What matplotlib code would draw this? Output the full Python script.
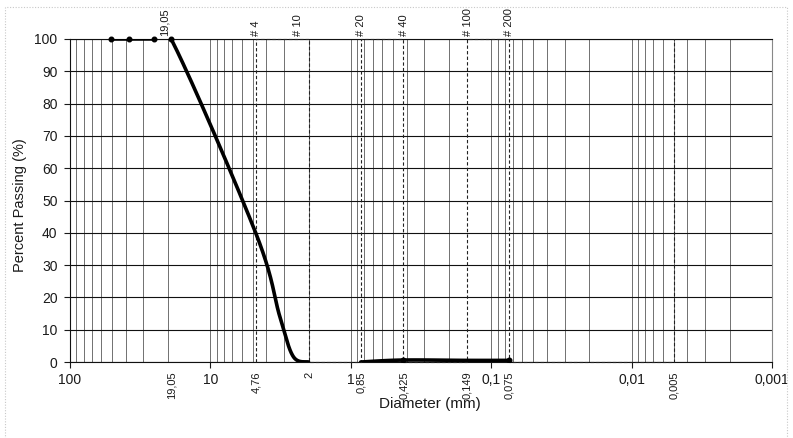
import numpy as np
import matplotlib
matplotlib.use("Agg")
import matplotlib.pyplot as plt
from matplotlib.ticker import LogLocator, FixedLocator, NullFormatter, FixedFormatter
from matplotlib.patches import Rectangle

plt.rcParams['font.family'] = ['Liberation Sans', 'DejaVu Sans']

# ---------------- data ----------------
# grading curve, coarse part (mm, % passing)
curve_a_d = [50.8, 38.1, 25.4, 19.05, 4.76, 3.2, 2.57, 2.0]
curve_a_p = [100, 100, 100, 100, 40, 14, 1.7, 0]
# grading curve, fine part
curve_b_d = [0.85, 0.425, 0.149, 0.075]
curve_b_p = [0, 0.6, 0.5, 0.5]

# sieve boundaries (dashed square-wave series)
sieve_d = [4.76, 2.0, 0.85, 0.425, 0.149, 0.075, 0.005]
sieve_top_labels = ['# 4', '# 10', '# 20', '# 40', '# 100', '# 200', '']
sieve_bottom_labels = ['4,76', '2', '0,85', '0,425', '0,149', '0,075', '0,005']

gravel_d = 19.05
gravel_label = '19,05'

x_ticks = [100, 10, 1, 0.1, 0.01, 0.001]
x_tick_labels = ['100', '10', '1', '0,1', '0,01', '0,001']
y_ticks = list(range(0, 101, 10))

# ---------------- figure ----------------
W, H = 793, 438
fig = plt.figure(figsize=(W / 100, H / 100), dpi=100)
ax = fig.add_axes([70 / W, (H - 362) / H, 702 / W, 323 / H])

ax.set_xscale('log')
ax.set_xlim(100, 0.001)
ax.set_ylim(0, 100)

ink = '#1a1a1a'

# grid
ax.xaxis.set_major_locator(FixedLocator(x_ticks))
ax.xaxis.set_major_formatter(FixedFormatter(x_tick_labels))
ax.xaxis.set_minor_locator(LogLocator(base=10, subs=np.arange(2, 10)))
ax.xaxis.set_minor_formatter(NullFormatter())
ax.set_yticks(y_ticks)
ax.set_yticklabels([str(v) for v in y_ticks])
ax.grid(True, axis='x', which='both', color='#5a5a5a', lw=0.6, zorder=0)
ax.grid(True, axis='y', which='major', color='#111111', lw=0.8, zorder=0)
ax.set_axisbelow(True)

ax.tick_params(axis='both', which='major', length=4, width=0.8, color=ink,
               labelsize=10, labelcolor=ink)
ax.tick_params(axis='y', pad=5)
ax.tick_params(axis='x', pad=4)
ax.tick_params(axis='x', which='minor', length=0)

for s in ['left', 'bottom', 'top']:
    ax.spines[s].set_color('#111111')
    ax.spines[s].set_linewidth(0.8)
ax.spines['right'].set_color('#888888')
ax.spines['right'].set_linewidth(0.8)

# ---- smoothing (Excel-like Bezier through the points, in screen space) ----
KX, KY = 140.4, 3.23


def smooth(d, p, n=40):
    u = np.log10(np.asarray(d, float)) * KX
    v = np.asarray(p, float) * KY
    pts = np.column_stack([u, v])
    ext = np.vstack([pts[0], pts, pts[-1]])
    t = np.linspace(0, 1, n)[:, None]
    out = []
    for i in range(len(pts) - 1):
        p0, p1, p2, p3 = ext[i], ext[i + 1], ext[i + 2], ext[i + 3]
        c1 = p1 + (p2 - p0) / 6.0
        c2 = p2 - (p3 - p1) / 6.0
        seg = (1 - t) ** 3 * p1 + 3 * (1 - t) ** 2 * t * c1 + 3 * (1 - t) * t ** 2 * c2 + t ** 3 * p2
        out.append(seg if i == 0 else seg[1:])
    out = np.vstack(out)
    return 10 ** (out[:, 0] / KX), out[:, 1] / KY


# dashed sieve series (square wave)
sq_x, sq_y = [], []
for i, d in enumerate(sieve_d):
    sq_x += [d, d]
    sq_y += [0, 100] if i % 2 == 0 else [100, 0]
ax.plot(sq_x, sq_y, color='#222222', lw=0.8, ls=(0, (3, 2)), zorder=3, clip_on=False)

# grading curve
xa, ya = smooth(curve_a_d, curve_a_p)
ax.plot(xa, ya, color='black', lw=2.6, solid_capstyle='round', zorder=4)
xb, yb = smooth(curve_b_d, curve_b_p)
ax.plot(xb, yb, color='black', lw=2.6, solid_capstyle='round', zorder=4)
ax.plot(curve_a_d[:4], curve_a_p[:4], ls='none', marker='o', ms=3.3, color='black', zorder=5, clip_on=False)
ax.plot(curve_b_d[1::2], curve_b_p[1::2], ls='none', marker='o', ms=3.3, color='black', zorder=5)

# labels along the top
lab_fs = 8
ax.annotate(gravel_label, (gravel_d, 100), xytext=(-4.5, 2), textcoords='offset points',
            rotation=90, ha='center', va='bottom', fontsize=lab_fs, color=ink, annotation_clip=False)
top_shift = {'# 10': -7.5}
for d, lab in zip(sieve_d, sieve_top_labels):
    if lab:
        ax.annotate(lab, (d, 100), xytext=(top_shift.get(lab, 0.5), 2), textcoords='offset points',
                    rotation=90, ha='center', va='bottom', fontsize=lab_fs, color=ink,
                    annotation_clip=False)

# labels below the axis
ax.annotate(gravel_label, (gravel_d, 0), xytext=(0.5, -7), textcoords='offset points',
            rotation=90, ha='center', va='top', fontsize=lab_fs, color=ink, annotation_clip=False)
for d, lab in zip(sieve_d, sieve_bottom_labels):
    ax.annotate(lab, (d, 0), xytext=(0.5, -7), textcoords='offset points',
                rotation=90, ha='center', va='top', fontsize=lab_fs, color=ink,
                annotation_clip=False)

# axis titles
fig.text(430 / W, 1 - 404 / H, 'Diameter (mm)', ha='center', va='center', fontsize=11, color=ink)
fig.text(20 / W, 1 - 205 / H, 'Percent Passing (%)', ha='center', va='center', rotation=90,
         fontsize=10.5, color=ink)

# chart-area border
fig.patches.append(Rectangle((5 / W, -0.02), 782 / W, (H - 7) / H + 0.02, transform=fig.transFigure,
                             fill=False, ec='#c8c8c8', lw=0.8, ls=(0, (1, 1.5))))

fig.savefig('out.png', dpi=100)
